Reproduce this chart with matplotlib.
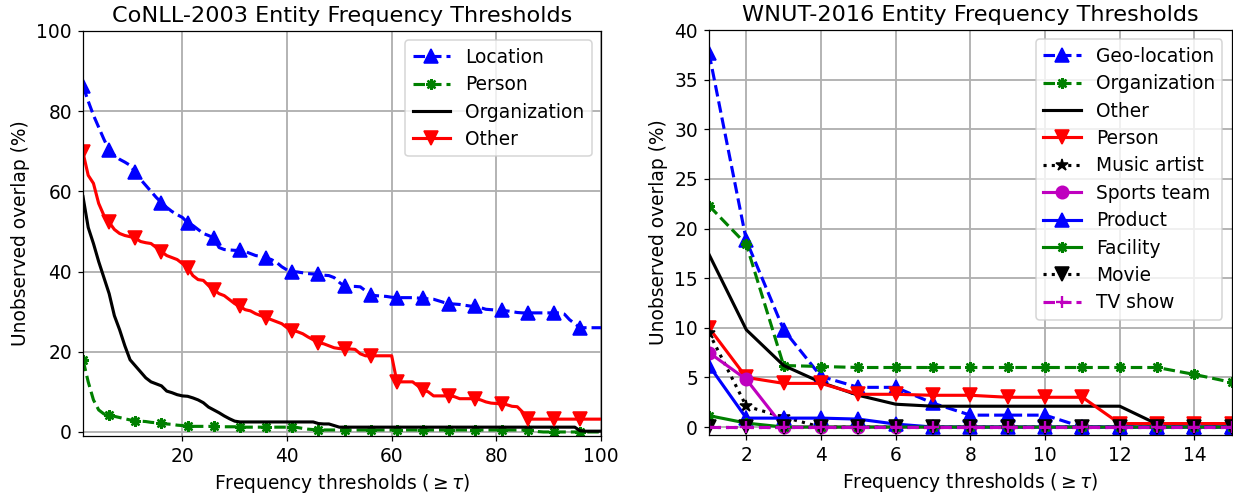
import numpy as np
import matplotlib
matplotlib.use("Agg")
import matplotlib.pyplot as plt

# CoNLL-2003: unobserved overlap (%) per frequency threshold tau = 1..100
conll_tau = list(range(1, 101))
conll_location = [
    86.3, 82.5, 79, 76, 73, 70.3, 69, 68, 67.3, 66.5,
    64.8, 63, 61.5, 60, 58.5, 57.2, 56, 55, 54.2, 53.5,
    52.2, 51.5, 50.5, 49.5, 49, 48.4, 46, 45.5, 45.4, 45.3,
    45.3, 45, 44.5, 44, 43.8, 43.4, 43, 42.3, 41.2, 40.4,
    40, 39.9, 39.7, 39.5, 39.4, 39.3, 39.1, 39, 38.5, 37.3,
    36.3, 36.3, 36.3, 36.2, 35.2, 34.2, 34, 33.9, 33.8, 33.6,
    33.5, 33.5, 33.5, 33.5, 33.4, 33.3, 33.2, 33.1, 32.7, 32.3,
    32, 31.9, 31.8, 31.6, 31.4, 31.3, 31, 30.6, 30.5, 30.4,
    30.3, 30.2, 30, 29.8, 29.7, 29.7, 29.7, 29.7, 29.7, 29.7,
    29.7, 29.7, 29.4, 28, 27, 26, 26, 26, 26, 26,
]
conll_person = [
    18, 12.5, 8, 5.5, 4.5, 4.2, 3.9, 3.6, 3.3, 3.0,
    2.8, 2.7, 2.6, 2.4, 2.3, 2.2, 2.0, 1.9, 1.7, 1.6,
    1.4, 1.4, 1.4, 1.4, 1.4, 1.4, 1.3, 1.3, 1.3, 1.3,
    1.2, 1.2, 1.2, 1.2, 1.2, 1.2, 1.2, 1.2, 1.2, 1.2,
    1.2, 1.1, 0.9, 0.7, 0.6, 0.5, 0.5, 0.5, 0.5, 0.5,
    0.5, 0.5, 0.5, 0.5, 0.5, 0.5, 0.5, 0.5, 0.5, 0.5,
    0.5, 0.5, 0.5, 0.5, 0.5, 0.5, 0.5, 0.5, 0.5, 0.5,
    0.5, 0.5, 0.5, 0.5, 0.5, 0.5, 0.5, 0.5, 0.5, 0.5,
    0.5, 0.5, 0.5, 0.5, 0.5, 0.5, 0.3, 0.1, 0, 0,
    0, 0, 0, 0, 0, 0, 0, 0, 0, 0,
]
conll_organization = [
    58.7, 51, 47, 42.5, 38.5, 34.5, 29, 25.5, 21.5, 18,
    16.5, 15, 13.5, 12.5, 12, 11.5, 10.2, 9.8, 9.3, 9,
    8.9, 8.5, 8, 7.3, 6.2, 5.5, 4.8, 4, 3.3, 2.7,
    2.5, 2.5, 2.5, 2.5, 2.5, 2.5, 2.5, 2.5, 2.5, 2.5,
    2.5, 2.5, 2.5, 2.5, 2.5, 2.1, 2.0, 2.0, 1.6, 1.2,
    1.2, 1.2, 1.2, 1.2, 1.2, 1.2, 1.2, 1.2, 1.2, 1.2,
    1.2, 1.2, 1.2, 1.2, 1.2, 1.2, 1.2, 1.2, 1.2, 1.2,
    1.2, 1.2, 1.2, 1.2, 1.2, 1.2, 1.2, 1.2, 1.2, 1.2,
    1.2, 1.2, 1.2, 1.2, 1.2, 1.2, 1.2, 1.2, 1.2, 1.2,
    1.2, 1.2, 1.2, 1.2, 1.2, 0.3, 0.2, 0.2, 0.2, 0.2,
]
conll_other = [
    69.7, 64, 62, 57, 54, 52.3, 50.5, 49.5, 49, 48.7,
    48.4, 47.5, 47.2, 47, 46, 45, 44, 43.5, 43, 42,
    41, 39, 38, 37.8, 36.5, 35.5, 34.5, 34, 33, 32,
    31.3, 30.5, 30.2, 29.5, 29, 28.5, 28, 27.5, 27, 26,
    25.3, 25, 24.5, 23.7, 23, 22.2, 22, 21.5, 21, 20.8,
    20.7, 20.7, 20.6, 19.5, 19, 19, 19, 19, 19, 19,
    12.5, 12.5, 12.5, 12.5, 11.5, 10.5, 10, 9, 9, 9,
    9, 8.8, 8.3, 8.3, 8.3, 8.3, 8, 7.5, 7.2, 7.1,
    7, 6.8, 6.4, 6.3, 5, 3.2, 3.2, 3.2, 3.2, 3.2,
    3.2, 3.2, 3.2, 3.2, 3.2, 3.2, 3.2, 3.2, 3.2, 3.2,
]

# WNUT-2016: unobserved overlap (%) per frequency threshold tau = 1..15
wnut_tau = list(range(1, 16))
wnut_geo = [37.7, 18.8, 9.8, 5.1, 4.0, 4.0, 2.4, 1.2, 1.2, 1.2, 0, 0, 0, 0, 0]
wnut_org = [22.3, 18.4, 6.2, 6.1, 6.0, 6.0, 6.0, 6.0, 6.0, 6.0, 6.0, 6.0, 6.0, 5.3, 4.5]
wnut_other = [17.4, 9.8, 6.2, 4.5, 3.2, 2.3, 2.1, 2.1, 2.1, 2.1, 2.1, 2.1, 0.3, 0.3, 0.3]
wnut_person = [10.0, 5.0, 4.4, 4.4, 3.3, 3.3, 3.2, 3.2, 3.0, 3.0, 3.0, 0.35, 0.35, 0.35, 0.35]
wnut_music = [9.5, 2.1, 1.0, 0, 0, 0, 0, 0, 0, 0, 0, 0, 0, 0, 0]
wnut_sports = [7.5, 4.8, 0, 0, 0, 0, 0, 0, 0, 0, 0, 0, 0, 0, 0]
wnut_product = [6.2, 0.9, 0.9, 0.9, 0.8, 0.3, 0, 0, 0, 0, 0, 0, 0, 0, 0]
wnut_facility = [1.15, 0.4, 0, 0, 0, 0, 0, 0, 0, 0, 0, 0, 0, 0, 0]
wnut_movie = [0] * 15
wnut_tv = [0] * 15

plt.rcParams['font.size'] = 12
plt.rcParams['legend.labelspacing'] = 0.45
fig = plt.figure(figsize=(1233 / 112, 496 / 112), dpi=112)
ax1 = fig.add_axes([0.0673, 0.121, 0.4201, 0.8165])
ax2 = fig.add_axes([0.575, 0.123, 0.424, 0.8165])

lw = 2
ms = 8.5
ast = (8, 2, 0)  # asterisk marker
xlab = r'Frequency thresholds ($\geq\tau$)'

ax1.plot(conll_tau, conll_location, 'b--', marker='^', markevery=5, lw=lw, ms=ms, label='Location')
ax1.plot(conll_tau, conll_person, 'g--', marker=ast, markevery=5, lw=lw, ms=7, mew=1.5, label='Person')
ax1.plot(conll_tau, conll_organization, 'k-', lw=lw, label='Organization')
ax1.plot(conll_tau, conll_other, 'r-', marker='v', markevery=5, lw=lw, ms=ms, label='Other')
ax1.set_xlim(1, 100)
ax1.set_ylim(-1, 100)
ax1.set_xticks([20, 40, 60, 80, 100])
ax1.set_yticks([0, 20, 40, 60, 80, 100])
ax1.grid(True, lw=1.2)
ax1.set_title('CoNLL-2003 Entity Frequency Thresholds')
ax1.set_xlabel(xlab)
ax1.set_ylabel('Unobserved overlap (%)')
ax1.legend(loc='upper right')

ax2.plot(wnut_tau, wnut_geo, 'b--', marker='^', lw=lw, ms=ms, label='Geo-location')
ax2.plot(wnut_tau, wnut_org, 'g--', marker=ast, lw=lw, ms=7, mew=1.5, label='Organization')
ax2.plot(wnut_tau, wnut_other, 'k-', lw=lw, label='Other')
ax2.plot(wnut_tau, wnut_person, 'r-', marker='v', lw=lw, ms=ms, label='Person')
ax2.plot(wnut_tau, wnut_music, 'k:', marker='*', lw=lw, ms=8, label='Music artist')
ax2.plot(wnut_tau, wnut_sports, 'm-', marker='o', lw=lw, ms=8, label='Sports team')
ax2.plot(wnut_tau, wnut_product, 'b-', marker='^', lw=lw, ms=ms, label='Product')
ax2.plot(wnut_tau, wnut_facility, 'g-', marker=ast, lw=lw, ms=7, mew=1.5, label='Facility')
ax2.plot(wnut_tau, wnut_movie, 'k:', marker='v', lw=lw, ms=ms, label='Movie')
ax2.plot(wnut_tau, wnut_tv, 'm--', marker='+', lw=lw, ms=8, mew=1.5, label='TV show')
ax2.set_xlim(1, 15)
ax2.set_ylim(-0.8, 40)
ax2.set_xticks(range(2, 16, 2))
ax2.set_yticks(range(0, 41, 5))
ax2.grid(True, lw=1.2)
ax2.set_title('WNUT-2016 Entity Frequency Thresholds')
ax2.set_xlabel(xlab)
ax2.set_ylabel('Unobserved overlap (%)')
ax2.legend(loc='upper right')

fig.savefig('out.png', dpi=112)
